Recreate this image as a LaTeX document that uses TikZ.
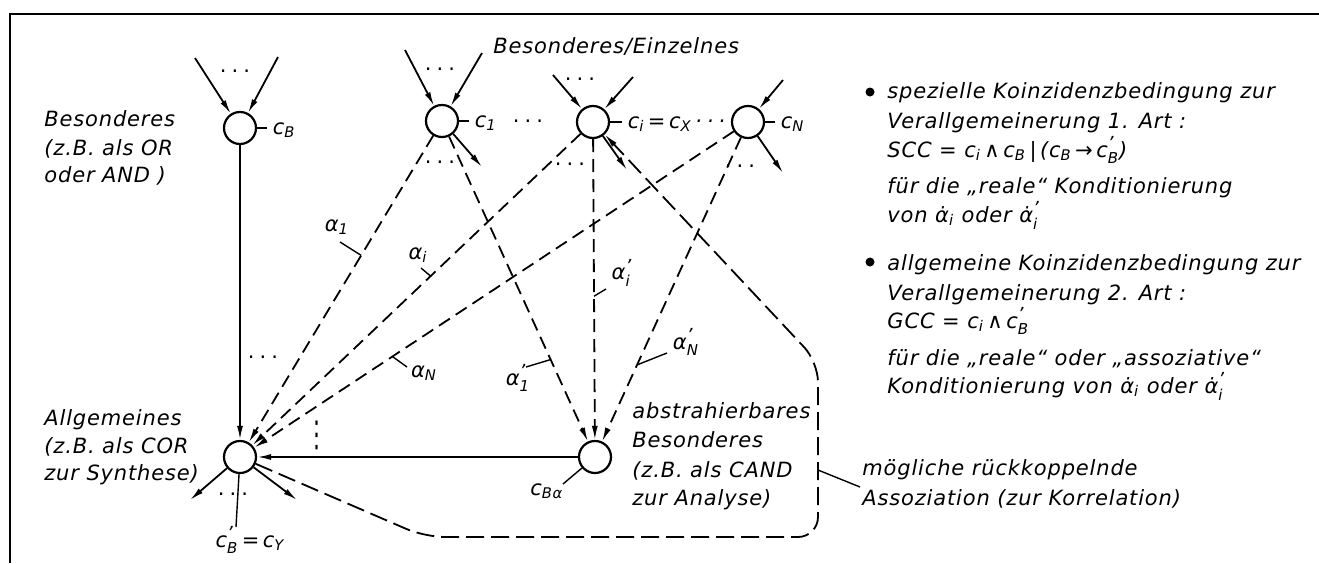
\documentclass[tikz,border=0pt]{standalone}
\usepackage{fontspec}
\setmainfont{DejaVu Sans}[LetterSpace=4]
\usetikzlibrary{arrows.meta,calc}
\newcommand\lo[1]{\textsubscript{#1}}
\newcommand\ps[1]{\ensuremath{^{\mbox{\fontsize{9}{9}\selectfont\raisebox{-2pt}{’}}}_{\mbox{\fontsize{7.5}{8}\selectfont\itshape #1}}}}
\newcommand\dts{·\hspace{2.5pt}·\hspace{2.5pt}·}
\begin{document}
\begin{tikzpicture}[x=0.5pt,y=-0.5pt,
  txt/.style={font=\fontsize{10.5}{12}\selectfont\itshape, inner sep=0pt, anchor=base west},
  lbl/.style={font=\fontsize{10.5}{12}\selectfont\itshape, inner sep=0pt, anchor=center},
  dotsn/.style={font=\fontsize{10.5}{12}\selectfont, inner sep=0pt, anchor=base},
  gate/.style={circle, draw, line width=1.1pt, minimum size=16pt, inner sep=0pt},
  arr/.style={line width=0.9pt, -{Latex[length=7pt,width=3pt]}},
  dsh/.style={line width=0.9pt, dash pattern=on 6.5pt off 3.5pt, -{Latex[length=7pt,width=3pt]}},
  fb/.style={line width=0.9pt, dash pattern=on 9pt off 3.5pt},
  tick/.style={line width=0.7pt},
  bullet/.style={circle, fill, inner sep=0pt, minimum size=4.5pt}]
\useasboundingbox (0,0) rectangle (1319,563);
\draw[line width=1.3pt] (10,563) -- (10,14) -- (1319,14);

% gates
\node[gate] (cB) at (240,128) {};
\node[gate] (c1) at (442,121) {};
\node[gate] (ci) at (593,122) {};
\node[gate] (cN) at (748,122) {};
\node[gate] (G) at (240,457) {};
\node[gate] (A) at (595,457) {};

% incoming arrows
\coordinate (iB1) at (195,58);  \coordinate (iB2) at (278,57);
\coordinate (i11) at (405,50);  \coordinate (i12) at (482,53);
\coordinate (ii1) at (553,75);  \coordinate (ii2) at (633,77);
\coordinate (iN2) at (783,80);
\draw[arr] (iB1) -- (cB); \draw[arr] (iB2) -- (cB);
\draw[arr] (i11) -- (c1); \draw[arr] (i12) -- (c1);
\draw[arr] (ii1) -- (ci); \draw[arr] (ii2) -- (ci);
\draw[arr] (iN2) -- (cN);

% outgoing arrows
\coordinate (o1) at (482,167);
\coordinate (oi) at (627,170);
\coordinate (oN) at (783,173);
\coordinate (oG1) at (190,500);
\coordinate (oG2) at (297,500);
\draw[arr] (c1) -- (o1);
\draw[arr] (ci) -- (oi);
\draw[arr] (cN) -- (oN);
\draw[arr] (G) -- (oG1);
\draw[arr] (G) -- (oG2);

% main connections
\draw[arr] (cB) -- (G);
\draw[arr] (A) -- (G);
\draw[dsh] (c1) -- (G);
\draw[dsh] (c1) -- (A);
\draw[dsh] (ci) -- (G);
\draw[dsh] (ci) -- (A);
\draw[dsh] (cN) -- (G);
\draw[dsh] (cN) -- (A);

% feedback association
\coordinate (f1) at (425,537);
\coordinate (f2) at (818,537);
\coordinate (f3) at (818,362);
\draw[fb, rounded corners=10pt, -{Latex[length=7pt,width=3pt]}] (G) -- (f1) -- (f2) -- (f3) -- (ci);

% gate labels with ticks
\draw[tick] (cB.east) -- ++(10,0) node[txt, xshift=2.5pt, yshift=-3pt] (lB) {c\lo{B}};
\draw[tick] (c1.east) -- ++(10,0) node[txt, xshift=2.5pt, yshift=-3pt] (l1) {c\lo{1}};
\draw[tick] (ci.east) -- ++(12,0) node[txt, xshift=2.5pt, yshift=-3pt] (li) {c\lo{i}\,=\,c\lo{X}\,\dts};
\draw[tick] (cN.east) -- ++(10,0) node[txt, xshift=2.5pt, yshift=-3pt] (lN) {c\lo{N}};

% dots
\node[dotsn] (d1) at (235,78) {\dts};
\node[dotsn] (d2) at (440,76) {\dts};
\node[dotsn] (d3) at (580,86) {\dts};
\node[dotsn] (d4) at (440,169) {\dts};
\node[dotsn] (d5) at (570,171) {\dts};
\node[dotsn] (d6) at (740,173) {\dts};
\node[dotsn] (d7) at (528,128) {\dts};
\node[dotsn] (d8) at (263,364) {\dts};
\node[dotsn] (d9) at (233,501) {\dts};
\node[font=\fontsize{10.5}{12}\selectfont, inner sep=0pt, yscale=1.7] (d10) at (317,435) {⋮};

% alpha labels
\node[lbl] (a1) at (337,227) {α\lo{1}};
\node[lbl] (ai) at (418,255) {α\lo{i}};
\node[lbl] (aN) at (424,373) {α\lo{N}};
\node[lbl] (b1) at (518,378) {α\ps{1}};
\node[lbl] (bi) at (622,273) {α\ps{i}};
\node[lbl] (bN) at (686,342) {α\ps{N}};
\draw[tick] (340,242) -- ($(c1)!0.40!(G)$);
\draw[tick] (421,268) -- ($(ci)!0.46!(G)$);
\draw[tick] (407,367) -- ($(cN)!0.70!(G)$);
\draw[tick] (526,367) -- ($(c1)!0.71!(A)$);
\draw[tick] (606,289) -- ($(ci)!0.52!(A)$);
\draw[tick] (667,353) -- ($(cN)!0.725!(A)$);

% labels at G and A
\coordinate (cyT) at (236,527);
\draw[tick] (G) -- (cyT);
\node[txt, anchor=base] (cBY) at (250,547) {c\ps{B}\,=\,c\lo{Y}};
\coordinate (caT) at (563,484);
\draw[tick] (A) -- (caT);
\node[txt] (cBa) at (530,495) {c\lo{Bα}};

% text blocks
\node[txt] (t0) at (493,53) {Besonderes/Einzelnes};
\node[txt] (L1) at (44,126) {Besonderes};
\node[txt] (L2) at (44,155) {(z.B. als OR};
\node[txt] (L3) at (44,182) {oder AND )};
\node[txt] (G1) at (44,425) {Allgemeines};
\node[txt] (G2) at (44,453) {(z.B. als COR};
\node[txt] (G3) at (44,480) {zur Synthese)};
\node[txt] (A1) at (632,418) {abstrahierbares};
\node[txt] (A2) at (632,447) {Besonderes};
\node[txt] (A3) at (632,477) {(z.B. als CAND};
\node[txt] (A4) at (632,505) {zur Analyse)};

\node[bullet] (bu1) at (870,92) {};
\node[txt] (R1) at (887,98) {spezielle Koinzidenzbedingung zur};
\node[txt] (R2) at (887,128) {Verallgemeinerung 1. Art :};
\node[txt] (R3) at (887,157) {SCC = c\lo{i}\,∧\,c\lo{B}\,|\,(c\lo{B}\,→\,c\ps{B})};
\node[txt] (R4) at (887,193) {für die „reale“ Konditionierung};
\node[txt] (R5) at (887,222) {von α̇\lo{i} oder α̇\ps{i}};
\node[bullet] (bu2) at (870,262) {};
\node[txt] (R6) at (887,270) {allgemeine Koinzidenzbedingung zur};
\node[txt] (R7) at (887,300) {Verallgemeinerung 2. Art :};
\node[txt] (R8) at (887,328) {GCC = c\lo{i}\,∧\,c\ps{B}};
\node[txt] (R9) at (887,365) {für die „reale“ oder „assoziative“};
\node[txt] (R10) at (887,393) {Konditionierung von α̇\lo{i} oder α̇\ps{i}};

\node[txt] (M1) at (862,475) {mögliche rückkoppelnde};
\node[txt] (M2) at (862,505) {Assoziation (zur Korrelation)};
\coordinate (fbL) at (818,470);
\draw[tick] (fbL) -- (860,487);
\end{tikzpicture}
\end{document}
